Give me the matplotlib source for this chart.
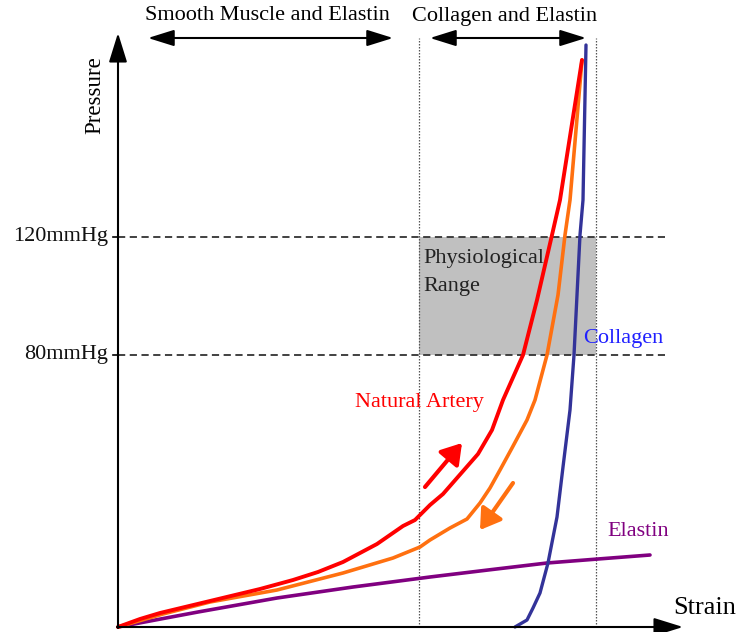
import numpy as np
import matplotlib
matplotlib.use("Agg")
import matplotlib.pyplot as plt
from matplotlib.patches import Rectangle

plt.rcParams["font.family"] = ["Liberation Serif", "DejaVu Serif"]

# schematic curves, strain (arbitrary) vs pressure (arbitrary)
artery_load_strain = [0, 0.22, 0.42, 0.67, 0.92, 1.17, 1.42, 1.75, 2.00, 2.25, 2.59, 2.85, 2.97, 3.12,
                      3.25, 3.60, 3.74, 3.85, 4.05, 4.19, 4.34, 4.42, 4.64]
artery_load_pressure = [0, 0.08, 0.14, 0.20, 0.26, 0.32, 0.38, 0.47, 0.55, 0.65, 0.83, 1.01, 1.07, 1.22,
                        1.33, 1.73, 1.97, 2.27, 2.72, 3.27, 3.92, 4.27, 5.67]

artery_unload_strain = [0, 0.45, 0.92, 1.59, 2.25, 2.75, 3.02, 3.12, 3.32, 3.49, 3.62, 3.72, 3.82, 3.94,
                        4.09, 4.17, 4.29, 4.40, 4.47, 4.52, 4.64]
artery_unload_pressure = [0, 0.13, 0.25, 0.37, 0.54, 0.69, 0.80, 0.87, 0.99, 1.08, 1.24, 1.39, 1.57, 1.79,
                          2.07, 2.27, 2.72, 3.32, 3.92, 4.27, 5.67]

collagen_strain = [3.97, 4.09, 4.15, 4.22, 4.30, 4.39, 4.45, 4.52, 4.56, 4.62, 4.65, 4.68]
collagen_pressure = [0, 0.07, 0.19, 0.34, 0.64, 1.10, 1.60, 2.17, 2.72, 3.92, 4.27, 5.82]

elastin_strain = [0, 0.80, 1.59, 2.35, 3.12, 3.70, 4.29, 4.80, 5.32]
elastin_pressure = [0, 0.15, 0.29, 0.40, 0.50, 0.57, 0.64, 0.68, 0.72]

tick_pressure = [2.72, 3.90]
tick_labels = ["80mmHg", "120mmHg"]
region_bounds = [3.01, 4.78]  # strain where collagen region starts / ends

fig = plt.figure(figsize=(7.4, 6.32), dpi=100)
ax = fig.add_axes([0, 0, 1, 1])
ax.set_xlim(-1.18, 6.22)
ax.set_ylim(-0.05, 6.27)
ax.axis("off")

# physiological range box
ax.add_patch(Rectangle((region_bounds[0], tick_pressure[0]), region_bounds[1] - region_bounds[0],
                       tick_pressure[1] - tick_pressure[0], facecolor="#c0c0c0", edgecolor="none", zorder=0))

for xb in region_bounds:
    ax.plot([xb, xb], [0, 5.89], color="#555555", lw=0.9, ls=(0, (1.2, 1.2)), zorder=1)

for yp, lab in zip(tick_pressure, tick_labels):
    ax.plot([0, 5.47], [yp, yp], color="#333333", lw=1.3, ls=(0, (4, 2.5)), zorder=1)
    ax.plot([-0.05, 0], [yp, yp], color="black", lw=1.2)
    ax.text(-0.10, yp, lab, ha="right", va="center", fontsize=16, color="#111111")

# axes with arrows
arrow_kw = dict(arrowstyle="-|>,head_length=0.9,head_width=0.28", color="black", lw=1.5,
                shrinkA=0, shrinkB=0, mutation_scale=20)
ax.annotate("", xy=(0, 5.94), xytext=(0, -0.01), arrowprops=arrow_kw, zorder=5)
ax.annotate("", xy=(5.65, 0), xytext=(-0.01, 0), arrowprops=arrow_kw, zorder=5)

# curves
line_kw = dict(solid_joinstyle="round", solid_capstyle="round")
ax.plot(elastin_strain, elastin_pressure, color="#800080", lw=2.6, zorder=3, **line_kw)
ax.plot(artery_unload_strain, artery_unload_pressure, color="#ff7010", lw=2.6, zorder=3, **line_kw)
ax.plot(artery_load_strain, artery_load_pressure, color="#ff0000", lw=2.8, zorder=4, **line_kw)
ax.plot(collagen_strain, collagen_pressure, color="#333399", lw=2.4, zorder=3, **line_kw)

# loading / unloading direction arrows
dir_kw = dict(arrowstyle="-|>,head_length=0.6,head_width=0.38", lw=3, shrinkA=0, shrinkB=0, mutation_scale=20)
ax.annotate("", xy=(3.44, 1.84), xytext=(3.07, 1.40), arrowprops=dict(color="#ff0000", **dir_kw))
ax.annotate("", xy=(3.62, 0.97), xytext=(3.95, 1.44), arrowprops=dict(color="#ff7010", **dir_kw))

# region arrows at top
dbl_kw = dict(arrowstyle="<|-|>,head_length=0.8,head_width=0.25", color="black", lw=1.5,
              shrinkA=0, shrinkB=0, mutation_scale=20)
ax.annotate("", xy=(0.30, 5.89), xytext=(2.75, 5.89), arrowprops=dbl_kw)
ax.annotate("", xy=(3.12, 5.89), xytext=(4.68, 5.89), arrowprops=dbl_kw)

ax.text(0.27, 6.11, "Smooth Muscle and Elastin", ha="left", va="center", fontsize=16)
ax.text(2.94, 6.11, "Collagen and Elastin", ha="left", va="center", fontsize=16)

ax.text(-0.23, 5.32, "Pressure", rotation=90, ha="center", va="center", fontsize=16.5)
ax.text(5.55, 0.19, "Strain", ha="left", va="center", fontsize=19)

ax.text(3.05, 3.68, "Physiological", ha="left", va="center", fontsize=16, color="#222222")
ax.text(3.05, 3.40, "Range", ha="left", va="center", fontsize=16, color="#222222")
ax.text(4.65, 2.89, "Collagen", ha="left", va="center", fontsize=16, color="#2020ff")
ax.text(2.37, 2.25, "Natural Artery", ha="left", va="center", fontsize=16, color="#ff0000")
ax.text(4.89, 0.95, "Elastin", ha="left", va="center", fontsize=16, color="#800080")

fig.savefig("out.png", dpi=100)
